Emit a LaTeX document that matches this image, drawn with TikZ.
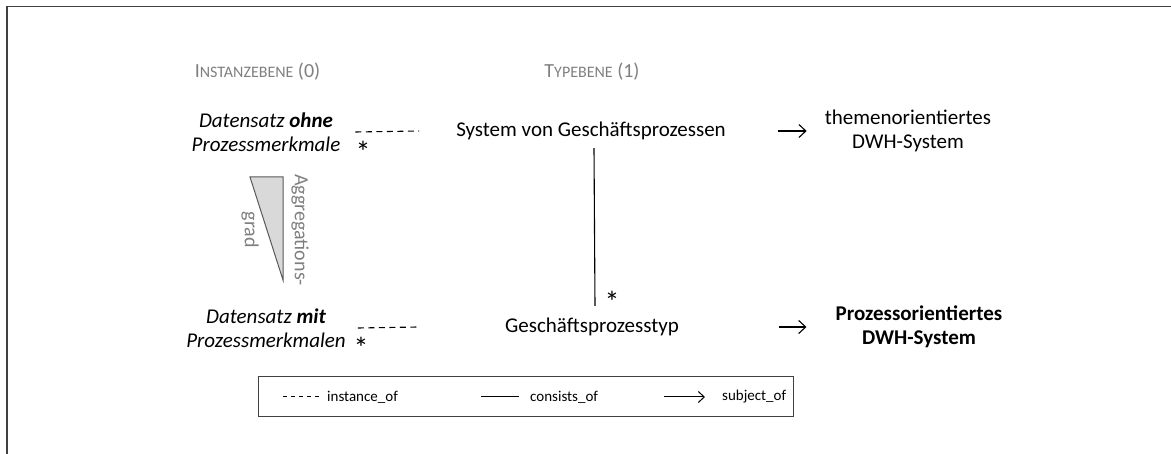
\documentclass[tikz,border=0pt]{standalone}
\usepackage{fontspec}
\setmainfont{Carlito}
\usetikzlibrary{arrows.meta}
\definecolor{headgray}{HTML}{7F7F7F}
\definecolor{trifill}{HTML}{D9D9D9}
\definecolor{triline}{HTML}{595959}
\definecolor{framegray}{HTML}{404040}
\newcommand{\fakesc}[2]{#1{\fontsize{16}{19}\selectfont #2}}
\begin{document}
\begin{tikzpicture}[x=1pt,y=-1pt,
	lbl/.style={font=\fontsize{21}{24}\selectfont,align=center,inner sep=2pt},
	head/.style={font=\fontsize{20}{23}\selectfont,text=headgray,inner sep=0pt},
	mult/.style={font=\fontsize{30}{30}\selectfont,inner sep=0pt,anchor=north,text depth=-0.28em},
	aggtext/.style={font=\fontsize{20}{24}\selectfont,text=headgray,rotate=-90,inner sep=0pt},
	legtext/.style={font=\fontsize{15}{18}\selectfont,anchor=west,inner sep=0pt},
	instof/.style={dash pattern=on 6pt off 4.5pt,line width=1.1pt},
	consof/.style={line width=1.1pt},
	subjof/.style={-{Straight Barb[length=7pt,width=13pt]},line width=1.1pt}]
	\useasboundingbox (0,0) rectangle (1171,454);
	\draw[framegray,line width=1.5pt] (7,454) -- (7,6.5) -- (1171,6.5);
	\node[head] (inst) at (257.5,72) {\fakesc{I}{NSTANZEBENE} (0)};
	\node[head] (type) at (592,72) {\fakesc{T}{YPEBENE} (1)};
	\node[lbl,font=\fontsize{21}{24}\selectfont\itshape] (ohne) at (266,132) {Datensatz \textbf{ohne}\\Prozessmerkmale};
	\node[lbl,font=\fontsize{21}{24}\selectfont\itshape] (mit) at (266,328) {Datensatz \textbf{mit}\\Prozessmerkmalen};
	\node[lbl] (sys) at (591,131) {System von Geschäftsprozessen};
	\node[lbl] (typ) at (592,327) {Geschäftsprozesstyp};
	\node[lbl] (them) at (908,131) {themenorientiertes\\DWH-System};
	\node[lbl,font=\fontsize{21}{24}\selectfont\bfseries] (proz) at (919,327) {Prozessorientiertes\\DWH-System};
	\node[mult] (m1) at (363,141) {*};
	\node[mult] (m2) at (361,337) {*};
	\node[mult] (m3) at (612,291) {*};
	\draw[instof] ([xshift=13pt]ohne.east) -- ([xshift=-35pt]sys.west);
	\draw[instof] ([xshift=10pt]mit.east) -- ([xshift=-85pt]typ.west);
	\draw[consof] ([xshift=3pt,yshift=-6pt]sys.south) -- ([xshift=3pt,yshift=10pt]typ.north);
	\draw[subjof,shorten <=50pt,shorten >=16pt] (sys) -- (them);
	\draw[subjof,shorten <=98pt,shorten >=27pt] (typ) -- (proz);
	\draw[triline,fill=trifill,line width=1pt] (250,177) -- (283,177) -- (283,280) -- cycle;
	\node[aggtext] (agg) at (300,230) {Aggregations-};
	\node[aggtext] (grad) at (250,230) {grad};
	\node[draw=framegray,line width=1pt,minimum width=535pt,minimum height=40pt,inner sep=0pt] (legend) at (525.5,397) {};
	\node[legtext] (li) at (327,397) {instance\_of};
	\node[legtext] (lc) at (530,397) {consists\_of};
	\node[legtext] (ls) at (722,397) {subject\_of};
	\draw[instof,dash pattern=on 4pt off 4pt,line width=1pt] ([xshift=-44pt]li.west) -- ([xshift=-5pt]li.west);
	\draw[consof,line width=1pt] ([xshift=-49pt]lc.west) -- ([xshift=-11pt]lc.west);
	\draw[subjof,line width=1pt,-{Straight Barb[length=6pt,width=11pt]}] ([xshift=-58pt]ls.west) -- ([xshift=-17pt]ls.west);
\end{tikzpicture}
\end{document}
